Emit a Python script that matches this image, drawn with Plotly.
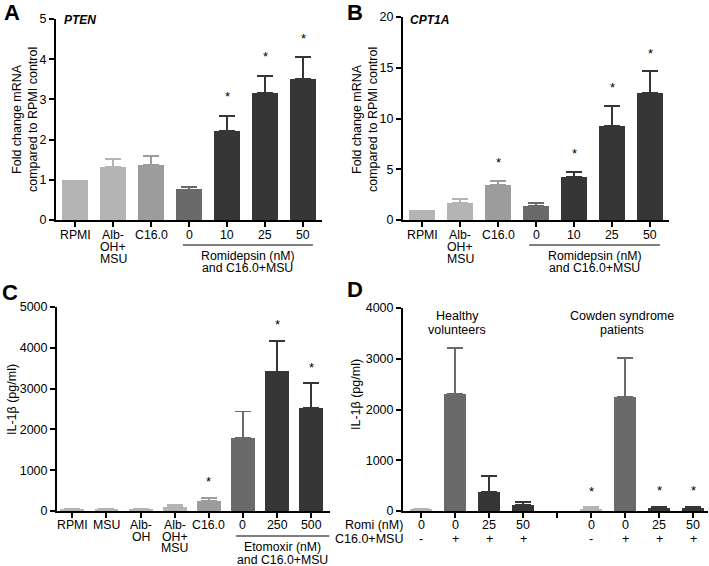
import plotly.graph_objects as go

# ---------------- data ----------------
a_labels = ["RPMI", "Alb-\nOH+\nMSU", "C16.0", "0", "10", "25", "50"]
a_mean = [1.0, 1.33, 1.37, 0.76, 2.21, 3.15, 3.52]
a_err = [0.0, 0.19, 0.23, 0.07, 0.38, 0.44, 0.53]
a_sig = [False, False, False, False, True, True, True]

b_labels = ["RPMI", "Alb-\nOH+\nMSU", "C16.0", "0", "10", "25", "50"]
b_mean = [1.0, 1.64, 3.42, 1.41, 4.21, 9.31, 12.53]
b_err = [0.0, 0.43, 0.46, 0.27, 0.53, 1.94, 2.14]
b_sig = [False, False, True, False, True, True, True]

c_labels = ["RPMI", "MSU", "Alb-\nOH", "Alb-\nOH+\nMSU", "C16.0", "0", "250", "500"]
c_mean = [40, 40, 40, 100, 245, 1800, 3420, 2515]
c_err = [20, 20, 20, 55, 80, 640, 755, 620]
c_sig = [False, False, False, False, True, False, True, True]

d_romi = ["0", "0", "25", "50", "", "0", "0", "25", "50"]
d_c16 = ["-", "+", "+", "+", "", "-", "+", "+", "+"]
d_mean = [30, 2308, 370, 120, None, 40, 2256, 60, 60]
d_err = [15, 900, 315, 65, None, 35, 760, 30, 25]
d_sig = [False, False, False, False, False, True, False, True, True]

# ---------------- style ----------------
LIGHT = "#b4b4b4"
MID = "#9c9c9c"
DGRAY = "#6a6a6a"
DARK = "#363636"
a_colors = [LIGHT, LIGHT, MID, DGRAY, DARK, DARK, DARK]
c_colors = [LIGHT, LIGHT, LIGHT, LIGHT, MID, DGRAY, DARK, DARK]
d_colors = [LIGHT, DGRAY, DARK, DARK, LIGHT, LIGHT, DGRAY, DARK, DARK]

FONT = "Liberation Sans, Arial, sans-serif"
FS = 12.5
W, H = 709, 566


def px(x):
    return x / W


def py(y):
    return 1 - y / H


fig = go.Figure()
annotations = []
shapes = []


def txt(x, y, text, xref="paper", yref="paper", size=FS, xanchor="center", yanchor="middle", **kw):
    d = dict(x=x, y=y, xref=xref, yref=yref, text=text, showarrow=False,
             xanchor=xanchor, yanchor=yanchor, font=dict(family=FONT, size=size, color="black"))
    d.update(kw)
    annotations.append(d)


def add_panel(means, errs, colors, sigs, width, star_shift, ax_sfx):
    for i, (m, e, c) in enumerate(zip(means, errs, colors)):
        if m is None:
            continue
        fig.add_trace(go.Bar(
            x=[i], y=[m], width=width, marker=dict(color=c, line=dict(width=0)),
            error_y=dict(type="data", symmetric=False, array=[e], arrayminus=[0],
                         color=c, thickness=1.8, width=8, visible=e > 0),
            xaxis="x" + ax_sfx, yaxis="y" + ax_sfx, showlegend=False,
        ))
        if sigs[i]:
            txt(i, m + e, "*", xref="x" + ax_sfx, yref="y" + ax_sfx, size=13, yshift=star_shift)


def add_xlabels(labels, ax_sfx, axis_y, first, step, size):
    for i, lab in enumerate(labels):
        for k, line in enumerate(lab.split("\n")):
            if line:
                txt(i, py(axis_y + first + k * step), line, xref="x" + ax_sfx, size=size)


add_panel(a_mean, a_err, a_colors, a_sig, 0.66, 19, "")
add_panel(b_mean, b_err, a_colors, b_sig, 0.66, 18, "2")
add_panel(c_mean, c_err, c_colors, c_sig, 0.7, 16, "3")
add_panel(d_mean, d_err, d_colors, d_sig, 0.64, 16, "4")

add_xlabels(a_labels, "", 220, 15, 12, 12.3)
add_xlabels(b_labels, "2", 220, 15, 12, 12.3)
add_xlabels(c_labels, "3", 511, 14, 11.5, 12.3)
add_xlabels([f"{r}\n{s}" for r, s in zip(d_romi, d_c16)], "4", 511, 14, 14, FS)

axis_common = dict(showline=True, linecolor="black", linewidth=2, ticks="outside",
                   ticklen=5, tickwidth=2, tickcolor="black", showgrid=False,
                   zeroline=False, automargin=False,
                   tickfont=dict(family=FONT, size=FS, color="black"))

fig.update_layout(
    template="none",
    width=W, height=H, margin=dict(l=0, r=0, t=0, b=0, autoexpand=False),
    plot_bgcolor="white", paper_bgcolor="white", bargap=0,
    font=dict(family=FONT, size=FS, color="black"),
    xaxis=dict(domain=[px(56), px(322)], range=[-0.5, 6.5], tickvals=list(range(7)),
               showticklabels=False, anchor="y", **axis_common),
    yaxis=dict(domain=[py(220), py(19)], range=[0, 5], dtick=1, anchor="x", **axis_common),
    xaxis2=dict(domain=[px(403), px(669)], range=[-0.5, 6.5], tickvals=list(range(7)),
                showticklabels=False, anchor="y2", **axis_common),
    yaxis2=dict(domain=[py(220), py(17)], range=[0, 20], dtick=5, anchor="x2", **axis_common),
    xaxis3=dict(domain=[px(57), px(330)], range=[-0.45, 7.55], tickvals=list(range(8)),
                showticklabels=False, anchor="y3", **axis_common),
    yaxis3=dict(domain=[py(511), py(307)], range=[0, 5000], dtick=1000, anchor="x3", **axis_common),
    xaxis4=dict(domain=[px(403), px(708)], range=[-0.53, 8.44], tickvals=list(range(9)),
                showticklabels=False, anchor="y4", **axis_common),
    yaxis4=dict(domain=[py(511), py(308)], range=[0, 4000], dtick=1000, anchor="x4", **axis_common),
)

# panel letters
for letter, x, y in [("A", 12, 12), ("B", 355, 12), ("C", 10, 292), ("D", 355, 289)]:
    txt(px(x), py(y), f"<b>{letter}</b>", size=22)

# gene names
txt(px(62), py(20), "<b><i>PTEN</i></b>", size=12, xanchor="left")
txt(px(408), py(20), "<b><i>CPT1A</i></b>", size=12, xanchor="left")

# y titles
ytitle_ab = "Fold change mRNA<br>compared to RPMI control"
txt(px(25), py(120), ytitle_ab, textangle=-90)
txt(px(365), py(120), ytitle_ab, textangle=-90)
txt(px(12), py(400), "IL-1β (pg/ml)", textangle=-90)
txt(px(356), py(395), "IL-1β (pg/ml)", textangle=-90)

# group labels
groups = [("x", 2.84, 6.26, 4.55, 245, 256, 268, "Romidepsin (nM)", "and C16.0+MSU"),
          ("x2", 2.82, 6.26, 4.55, 245, 256, 268, "Romidepsin (nM)", "and C16.0+MSU"),
          ("x3", 4.79, 7.53, 6.15, 536, 547, 560, "Etomoxir (nM)", "and C16.0+MSU")]
for xr, x0, x1, xc, yl, y1, y2, t1, t2 in groups:
    shapes.append(dict(type="line", xref=xr, yref="paper", x0=x0, x1=x1, y0=py(yl), y1=py(yl),
                       line=dict(color="black", width=1.2)))
    txt(xc, py(y1), t1, xref=xr, size=12.3)
    txt(xc, py(y2), t2, xref=xr, size=12.3)

# panel D labels
txt(px(405), py(525), "Romi (nM)", xanchor="right")
txt(px(405), py(539), "C16.0+MSU", xanchor="right")
txt(px(457), py(316), "Healthy")
txt(px(457), py(330), "volunteers")
txt(px(622), py(316), "Cowden syndrome")
txt(px(622), py(330), "patients")

fig.update_layout(annotations=annotations, shapes=shapes)
fig.write_html("out.html", config={"displayModeBar": False},
               post_script="document.body.style.margin='0px';")
